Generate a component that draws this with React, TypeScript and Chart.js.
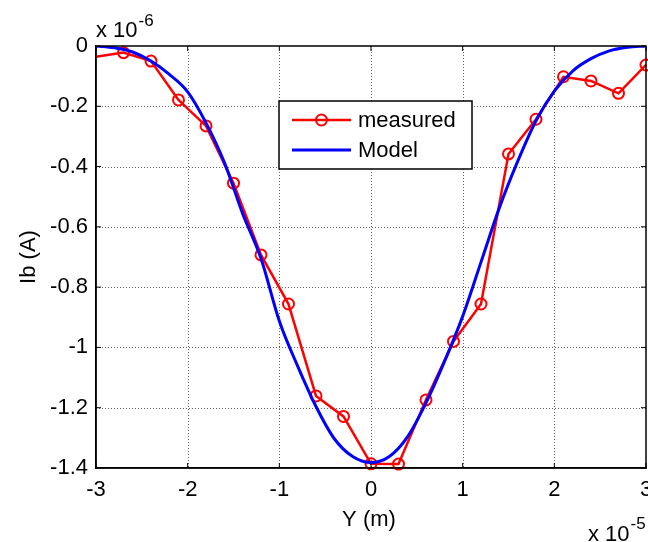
import React, { useEffect, useRef } from "react";
import { Chart, registerables } from "chart.js";

Chart.register(...registerables);

// x in units of 1e-5 m, y in units of 1e-6 A
const measX = [-3.0, -2.7, -2.4, -2.1, -1.8, -1.5, -1.2, -0.9, -0.6, -0.3, 0, 0.3, 0.6, 0.9, 1.2, 1.5, 1.8, 2.1, 2.4, 2.7, 3.0];
const measY = [-0.036, -0.022, -0.05, -0.179, -0.265, -0.455, -0.693, -0.856, -1.161, -1.229, -1.386, -1.387, -1.174, -0.98, -0.856, -0.358, -0.243, -0.102, -0.116, -0.157, -0.063];

const modelX = [-3.0, -2.8, -2.6, -2.4, -2.2, -2.0, -1.8, -1.6, -1.4, -1.2, -1.0, -0.8, -0.6, -0.4, -0.2, 0.0, 0.2, 0.4, 0.6, 0.8, 1.0, 1.2, 1.4, 1.6, 1.8, 2.0, 2.2, 2.4, 2.6, 2.8, 3.0];
const modelY = [0, -0.006, -0.02, -0.05, -0.094, -0.152, -0.255, -0.386, -0.556, -0.705, -0.912, -1.062, -1.196, -1.303, -1.362, -1.382, -1.362, -1.296, -1.184, -1.048, -0.897, -0.717, -0.537, -0.383, -0.248, -0.15, -0.083, -0.042, -0.016, -0.004, 0];

const xTicks = [-3, -2, -1, 0, 1, 2, 3];
const yTicks = [0, -0.2, -0.4, -0.6, -0.8, -1, -1.2, -1.4];

const seriesLabels = ["measured", "Model"];
const xTitle = "Y (m)";
const yTitle = "Ib (A)";
const xExp = "-5";
const yExp = "-6";

const FONT = "'Liberation Sans', Arial, sans-serif";
const FS = 22;

const gridPlugin = {
  id: "dotgrid",
  beforeDatasetsDraw(chart: any) {
    const { ctx, chartArea: a } = chart;
    const xs = chart.scales.x;
    const ys = chart.scales.y;
    ctx.save();
    ctx.strokeStyle = "rgba(0,0,0,0.6)";
    ctx.lineWidth = 1;
    ctx.setLineDash([1, 2]);
    xTicks.slice(1, -1).forEach((t) => {
      const px = Math.round(xs.getPixelForValue(t)) + 0.5;
      ctx.beginPath();
      ctx.moveTo(px, a.top);
      ctx.lineTo(px, a.bottom);
      ctx.stroke();
    });
    yTicks.slice(1, -1).forEach((t) => {
      const py = Math.round(ys.getPixelForValue(t)) + 0.5;
      ctx.beginPath();
      ctx.moveTo(a.left, py);
      ctx.lineTo(a.right, py);
      ctx.stroke();
    });
    ctx.restore();
  },
};

const decorPlugin = {
  id: "decor",
  afterDraw(chart: any) {
    const { ctx, chartArea: a } = chart;
    const xs = chart.scales.x;
    const ys = chart.scales.y;
    ctx.save();
    // box
    ctx.strokeStyle = "#000";
    ctx.lineWidth = 1.5;
    ctx.strokeRect(a.left, a.top, a.right - a.left, a.bottom - a.top);
    // inward ticks
    ctx.lineWidth = 1;
    const tl = 5;
    xTicks.forEach((t) => {
      const px = xs.getPixelForValue(t);
      ctx.beginPath();
      ctx.moveTo(px, a.bottom);
      ctx.lineTo(px, a.bottom - tl);
      ctx.moveTo(px, a.top);
      ctx.lineTo(px, a.top + tl);
      ctx.stroke();
    });
    yTicks.forEach((t) => {
      const py = ys.getPixelForValue(t);
      ctx.beginPath();
      ctx.moveTo(a.left, py);
      ctx.lineTo(a.left + tl, py);
      ctx.moveTo(a.right, py);
      ctx.lineTo(a.right - tl, py);
      ctx.stroke();
    });
    // exponents
    ctx.fillStyle = "#000";
    ctx.textBaseline = "alphabetic";
    ctx.textAlign = "left";
    ctx.font = `${FS}px ${FONT}`;
    ctx.fillText("x 10", a.left, a.top - 9);
    const w1 = ctx.measureText("x 10").width;
    ctx.font = `17px ${FONT}`;
    ctx.fillText(yExp, a.left + w1 + 1, a.top - 20);
    ctx.font = `${FS}px ${FONT}`;
    ctx.fillText("x 10", 588, 541);
    const w2 = ctx.measureText("x 10").width;
    ctx.font = `17px ${FONT}`;
    ctx.fillText(xExp, 588 + w2 + 1, 529);
    // axis titles
    ctx.font = `${FS}px ${FONT}`;
    ctx.textAlign = "center";
    ctx.fillText(xTitle, (a.left + a.right) / 2 - 2, 526);
    ctx.save();
    ctx.translate(35, (a.top + a.bottom) / 2);
    ctx.rotate(-Math.PI / 2);
    ctx.fillText(yTitle, 0, 0);
    ctx.restore();
    // legend
    const lx = 279, ly = 101, lw = 193, lh = 68;
    ctx.fillStyle = "#fff";
    ctx.fillRect(lx, ly, lw, lh);
    ctx.strokeStyle = "#000";
    ctx.lineWidth = 1.5;
    ctx.strokeRect(lx, ly, lw, lh);
    const rows = [ly + 19, ly + 49];
    chart.data.datasets.forEach((ds: any, i: number) => {
      const y = rows[i];
      ctx.strokeStyle = ds.borderColor;
      ctx.lineWidth = ds.borderWidth;
      ctx.beginPath();
      ctx.moveTo(292, y);
      ctx.lineTo(351, y);
      ctx.stroke();
      if (i === 0) {
        ctx.lineWidth = 2;
        ctx.beginPath();
        ctx.arc(321.5, y, 5.5, 0, Math.PI * 2);
        ctx.stroke();
      }
      ctx.fillStyle = "#000";
      ctx.textAlign = "left";
      ctx.textBaseline = "middle";
      ctx.font = `${FS}px ${FONT}`;
      ctx.fillText(ds.label, 358, y + 1);
    });
    ctx.restore();
  },
};

export default function App() {
  const ref = useRef<HTMLCanvasElement>(null);
  useEffect(() => {
    if (!ref.current) return;
    const chart = new Chart(ref.current, {
      type: "scatter",
      data: {
        datasets: [
          {
            label: seriesLabels[0],
            data: measX.map((x, i) => ({ x, y: measY[i] })),
            showLine: true,
            borderColor: "#ff0000",
            backgroundColor: "rgba(0,0,0,0)",
            borderWidth: 2.5,
            pointRadius: measX.map((_, i) => (i === 0 ? 0 : 5.5)),
            pointBorderWidth: 2,
            pointBorderColor: "#ff0000",
            pointBackgroundColor: "rgba(0,0,0,0)",
            order: 1,
            clip: false,
          } as any,
          {
            label: seriesLabels[1],
            data: modelX.map((x, i) => ({ x, y: modelY[i] })),
            showLine: true,
            borderColor: "#0000ff",
            backgroundColor: "rgba(0,0,0,0)",
            borderWidth: 3,
            pointRadius: 0,
            cubicInterpolationMode: "monotone",
            order: 0,
          } as any,
        ],
      },
      options: {
        animation: false,
        responsive: false,
        maintainAspectRatio: false,
        layout: { autoPadding: false, padding: { top: 46, right: 2, left: 0, bottom: 0 } },
        plugins: { legend: { display: false }, tooltip: { enabled: false } },
        scales: {
          x: {
            type: "linear",
            min: -3,
            max: 3,
            afterBuildTicks: (s: any) => {
              s.ticks = xTicks.map((v) => ({ value: v }));
            },
            afterFit: (s: any) => {
              s.height = 74;
              s.paddingLeft = 0;
              s.paddingRight = 0;
            },
            ticks: {
              color: "#000",
              font: { family: FONT, size: FS },
              padding: 9,
              maxRotation: 0,
              autoSkip: false,
              callback: (v: any) => String(Number(v)),
            },
            grid: { display: false, drawTicks: false },
            border: { display: true, color: "#000", width: 1.5 },
          } as any,
          y: {
            type: "linear",
            min: -1.4,
            max: 0,
            afterBuildTicks: (s: any) => {
              s.ticks = yTicks.map((v) => ({ value: v }));
            },
            afterFit: (s: any) => {
              s.width = 96;
              s.paddingTop = 0;
              s.paddingBottom = 0;
            },
            ticks: {
              color: "#000",
              font: { family: FONT, size: FS },
              padding: 8,
              autoSkip: false,
              callback: (v: any) => {
                const n = Number(Number(v).toFixed(1));
                return n === 0 ? "0" : String(n);
              },
            },
            grid: { display: false, drawTicks: false },
            border: { display: true, color: "#000", width: 1.5 },
          } as any,
        },
      },
      plugins: [gridPlugin, decorPlugin],
    } as any);
    return () => chart.destroy();
  }, []);
  return (
    <div style={{ position: "fixed", left: 0, top: 0, width: 648, height: 542, background: "#fff" }}>
      <canvas ref={ref} width={648} height={542} style={{ display: "block", width: 648, height: 542 }} />
    </div>
  );
}
